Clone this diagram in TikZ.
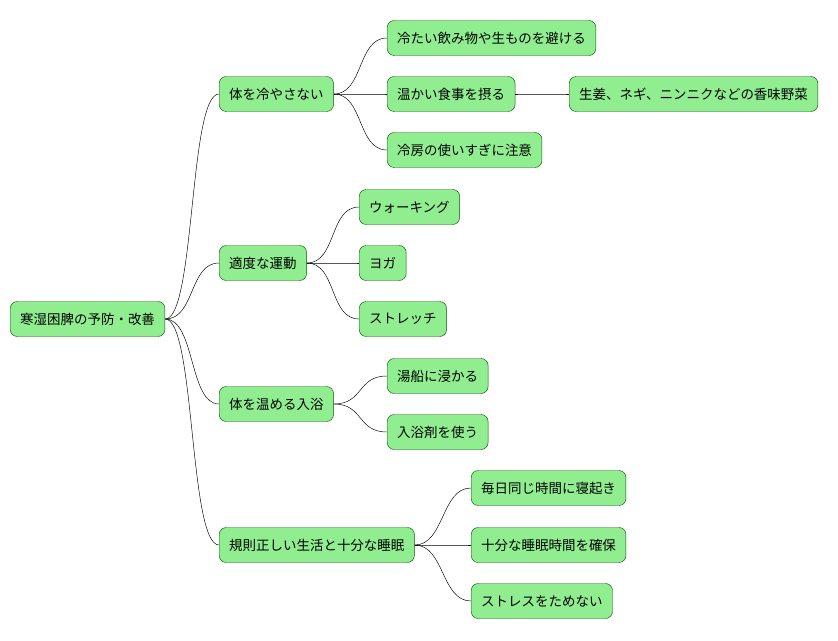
\documentclass[tikz,border=0pt]{standalone}
\usepackage{fontspec}
\setmainfont{Noto Sans CJK JP}
\colorlet{boxfill}{green!55!white!90!black}
\definecolor{boxfill}{HTML}{90EE90}
\definecolor{boxline}{HTML}{0A5C0A}
\tikzset{
  box/.style={draw=boxline,fill=boxfill,rounded corners=6pt,anchor=west,
    minimum height=1.05cm,inner xsep=0.3cm,font=\fontsize{11.5}{14}\selectfont},
  link/.style={draw=black,thin,to path={.. controls +(30,0) and +(-30,0) .. (\tikztotarget)}}
}
\begin{document}
\begin{tikzpicture}[x=0.03cm,y=-0.03cm]
  \useasboundingbox (0,0) rectangle (838,640);

  % root
  \node[box] (root) at (10,319) {寒湿困脾の予防・改善};

  % first level
  \node[box] (cold) at (219,94)  {体を冷やさない};
  \node[box] (move) at (219,263) {適度な運動};
  \node[box] (bath) at (219,404) {体を温める入浴};
  \node[box] (life) at (219,545) {規則正しい生活と十分な睡眠};

  % second level
  \node[box] (drink) at (387,38)  {冷たい飲み物や生ものを避ける};
  \node[box] (meal)  at (387,94)  {温かい食事を摂る};
  \node[box] (spice) at (569,94)  {生姜、ネギ、ニンニクなどの香味野菜};
  \node[box] (aircon) at (387,150) {冷房の使いすぎに注意};
  \node[box] (walk)  at (359,207) {ウォーキング};
  \node[box] (yoga)  at (359,263) {ヨガ};
  \node[box] (strch) at (359,319) {ストレッチ};
  \node[box] (tub)   at (387,376) {湯船に浸かる};
  \node[box] (salt)  at (387,432) {入浴剤を使う};
  \node[box] (wake)  at (471,488) {毎日同じ時間に寝起き};
  \node[box] (sleep) at (471,545) {十分な睡眠時間を確保};
  \node[box] (stress) at (471,601) {ストレスをためない};

  % links
  \foreach \a/\b in {root/cold,root/move,root/bath,root/life,
    cold/drink,cold/meal,cold/aircon,meal/spice,
    move/walk,move/yoga,move/strch,bath/tub,bath/salt,
    life/wake,life/sleep,life/stress}
    \path[link] (\a.east) to (\b.west);

\end{tikzpicture}
\end{document}
